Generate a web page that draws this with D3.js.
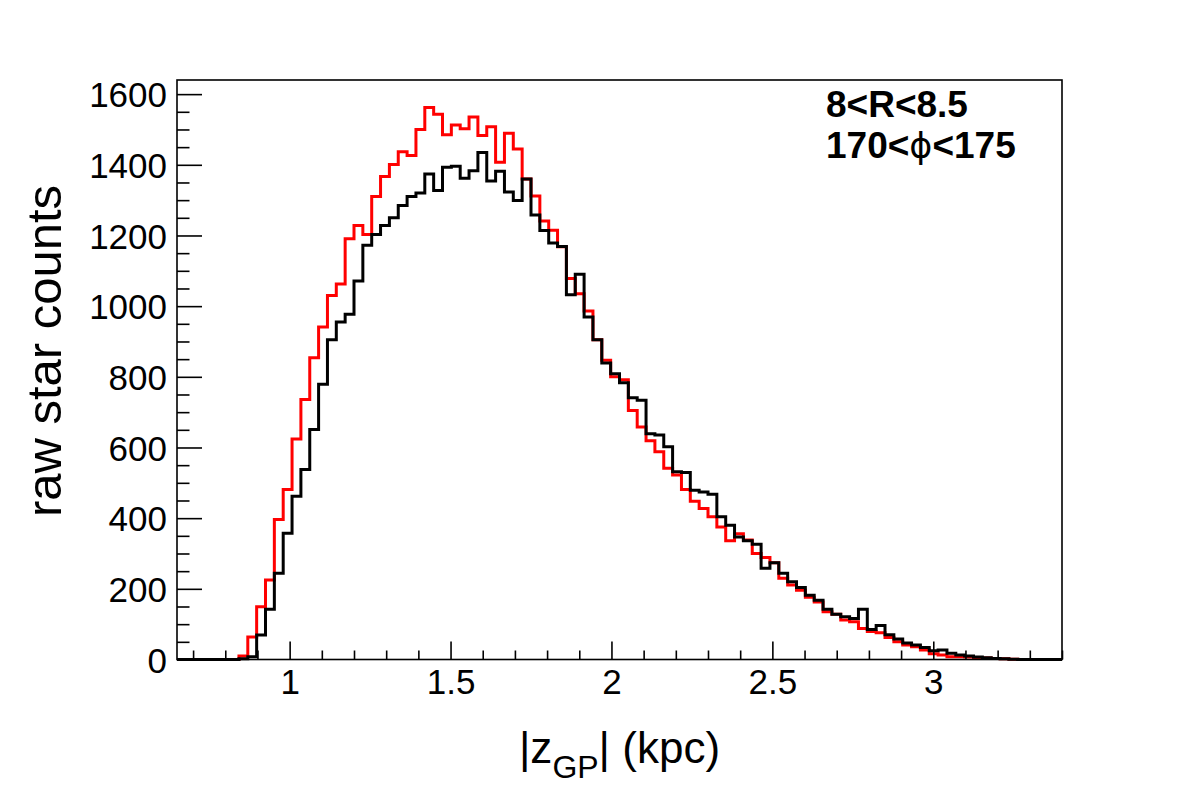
<!DOCTYPE html>
<html><head><meta charset="utf-8">
<script src="https://cdn.jsdelivr.net/npm/d3@7/dist/d3.min.js"></script>
<style>body{margin:0;background:#fff}svg{display:block}</style>
</head><body>
<svg id="chart" width="1182" height="805"></svg>
<script>
// ---- data ----
const binStart = 0.65;
const binWidth = 0.0275;   // 100 bins, 0.65 .. 3.4
const redCounts = [
  0,0,0,0,0,0,0,10,64,149,
  225,396,481,624,736,854,941,1030,1063,1191,
  1228,1203,1310,1367,1401,1437,1426,1500,1562,1543,
  1485,1513,1502,1535,1483,1508,1407,1489,1445,1360,
  1312,1241,1215,1168,1078,1035,986,905,847,800,
  792,705,658,619,588,541,522,481,448,427,
  404,375,336,356,338,300,289,274,230,211,
  196,176,163,135,128,112,107,88,79,76,
  62,50,41,36,27,16,13,8,8,7,
  4,4,3,2,1,0,0,0,0,0
];
const blackCounts = [
  0,0,0,0,0,0,0,2,8,69,
  142,244,357,462,538,651,779,905,955,977,
  1071,1172,1203,1228,1250,1285,1310,1320,1374,1327,
  1393,1396,1362,1383,1435,1354,1382,1323,1299,1360,
  1258,1214,1179,1169,1032,1090,969,905,839,809,
  783,741,734,639,635,602,531,529,479,474,
  468,404,380,347,336,326,258,274,244,220,
  204,182,168,142,128,121,116,142,85,96,
  70,58,47,41,34,25,27,18,13,10,
  7,5,3,2,1,0,0,0,0,0
];
const xDomain = [0.65, 3.4];
const yDomain = [0, 1640];
const xMajorTicks = [1, 1.5, 2, 2.5, 3];
const xMajorLabels = ["1", "1.5", "2", "2.5", "3"];
const xMinorTicks = [0.7,0.8,0.9,1.1,1.2,1.3,1.4,1.6,1.7,1.8,1.9,2.1,2.2,2.3,2.4,2.6,2.7,2.8,2.9,3.1,3.2,3.3,3.4];
const yMajorTicks = [0,200,400,600,800,1000,1200,1400,1600];
const yMinorTicks = [50,100,150,250,300,350,450,500,550,650,700,750,850,900,950,1050,1100,1150,1250,1300,1350,1450,1500,1550];
const xTitleMain = "|z", xTitleSub = "GP", xTitleEnd = "| (kpc)";
const yTitle = "raw star counts";
const note1 = "8<R<8.5";
const note2 = ["170<", "ϕ", "<175"];

// ---- layout ----
const L = 177, R = 1062, T = 80, B = 659.5;
const FONT = "'Liberation Sans', Arial, Helvetica, sans-serif";
const svg = d3.select("#chart");
const x = d3.scaleLinear().domain(xDomain).range([L, R]);
const y = d3.scaleLinear().domain(yDomain).range([B, T]);

function stepData(counts) {
  const pts = counts.map((c, i) => [binStart + i * binWidth, c]);
  pts.push([binStart + counts.length * binWidth, counts[counts.length - 1]]);
  return pts;
}
const line = d3.line().x(d => x(d[0])).y(d => y(d[1])).curve(d3.curveStepAfter);

const plot = svg.append("g");
plot.append("path").datum(stepData(redCounts)).attr("d", line)
  .attr("fill", "none").attr("stroke", "#ff0000").attr("stroke-width", 3);
plot.append("path").datum(stepData(blackCounts)).attr("d", line)
  .attr("fill", "none").attr("stroke", "#000").attr("stroke-width", 3);

// frame
svg.append("rect").attr("x", L).attr("y", T).attr("width", R - L).attr("height", B - T)
  .attr("fill", "none").attr("stroke", "#000").attr("stroke-width", 1.6);

// x axis
const xMajor = d3.axisBottom(x).tickValues(xMajorTicks)
  .tickFormat((d, i) => xMajorLabels[i]).tickSizeInner(-18).tickSizeOuter(0).tickPadding(10);
const gx = svg.append("g").attr("transform", `translate(0,${B})`).call(xMajor);
const xMinor = d3.axisBottom(x).tickValues(xMinorTicks).tickFormat("").tickSizeInner(-9).tickSizeOuter(0);
const gx2 = svg.append("g").attr("transform", `translate(0,${B})`).call(xMinor);
[gx, gx2].forEach(g => { g.select(".domain").remove(); g.selectAll("line").attr("stroke", "#000").attr("stroke-width", 1.6); });
gx.selectAll("text").attr("font-family", FONT).attr("font-size", 35).attr("fill", "#000").attr("dy", "0.71em");

// y axis
const yMajor = d3.axisLeft(y).tickValues(yMajorTicks).tickFormat(d3.format("d"))
  .tickSizeInner(-25).tickSizeOuter(0).tickPadding(10);
const gy = svg.append("g").attr("transform", `translate(${L},0)`).call(yMajor);
const yMinor = d3.axisLeft(y).tickValues(yMinorTicks).tickFormat("").tickSizeInner(-12.5).tickSizeOuter(0);
const gy2 = svg.append("g").attr("transform", `translate(${L},0)`).call(yMinor);
[gy, gy2].forEach(g => { g.select(".domain").remove(); g.selectAll("line").attr("stroke", "#000").attr("stroke-width", 1.6); });
gy.selectAll("text").attr("font-family", FONT).attr("font-size", 35).attr("fill", "#000").attr("dy", "0.36em");

// x title
const xt = svg.append("text").attr("x", (L + R) / 2).attr("y", 763)
  .attr("text-anchor", "middle").attr("font-family", FONT).attr("font-size", 44).attr("fill", "#000");
xt.append("tspan").text(xTitleMain);
xt.append("tspan").attr("font-size", 32).attr("dy", 15).text(xTitleSub);
xt.append("tspan").attr("dy", -15).text(xTitleEnd);

// y title
svg.append("text").attr("transform", "translate(61,351) rotate(-90)")
  .attr("text-anchor", "middle").attr("font-family", FONT).attr("font-size", 49).attr("fill", "#000")
  .text(yTitle);

// annotation
svg.append("text").attr("x", 826).attr("y", 117).attr("font-family", FONT)
  .attr("font-size", 37).attr("font-weight", "bold").attr("fill", "#000").text(note1);
const n2 = svg.append("text").attr("x", 826).attr("y", 158).attr("font-family", FONT)
  .attr("font-size", 37).attr("font-weight", "bold").attr("fill", "#000");
n2.append("tspan").text(note2[0]);
n2.append("tspan").attr("font-weight", "normal").attr("font-family", "'DejaVu Sans', sans-serif").attr("font-size", 35).text(note2[1]);
n2.append("tspan").text(note2[2]);
</script>
</body></html>
